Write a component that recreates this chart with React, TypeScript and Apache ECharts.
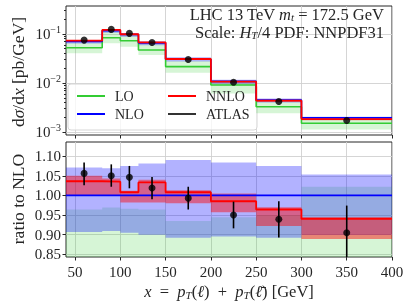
import React, { useEffect, useRef } from 'react';
import * as echarts from 'echarts';

// ---------- data ----------
const edges = [40, 80, 100, 120, 150, 200, 250, 300, 400];
const centers = [60, 90, 110, 135, 175, 225, 275, 350];

// top panel: dσ/dx [pb/GeV]
const loXs = [0.0525, 0.084, 0.073, 0.047, 0.0216, 0.0091, 0.00328, 0.00151];
const loXsLo = [0.0404, 0.0646, 0.0551, 0.0373, 0.0162, 0.0061, 0.00241, 0.00113];
const loXsHi = [0.068, 0.113, 0.094, 0.063, 0.0286, 0.0102, 0.0043, 0.002];
const nloXs = [0.0706, 0.117, 0.0975, 0.0655, 0.0306, 0.0108, 0.00451, 0.00196];
const nloXsLo = [0.064, 0.106, 0.088, 0.059, 0.0273, 0.0097, 0.004, 0.00176];
const nloXsHi = [0.0756, 0.125, 0.105, 0.0708, 0.0334, 0.0117, 0.00485, 0.00206];
const nnloXs = [0.0729, 0.121, 0.0986, 0.0677, 0.0309, 0.01065, 0.00436, 0.00184];
const nnloXsLo = [0.0706, 0.117, 0.0958, 0.0643, 0.03, 0.01034, 0.00416, 0.00174];
const nnloXsHi = [0.0741, 0.122, 0.0988, 0.068, 0.031, 0.01085, 0.00442, 0.00188];
const atlasXs = [0.075, 0.124, 0.103, 0.0672, 0.0302, 0.0104, 0.0042, 0.00172];

// bottom panel: ratio to NLO
const nloRatio = [1, 1, 1, 1, 1, 1, 1, 1];
const nloRatioLo = [0.907, 0.909, 0.905, 0.9, 0.892, 0.895, 0.892, 0.899];
const nloRatioHi = [1.071, 1.069, 1.075, 1.081, 1.09, 1.084, 1.075, 1.053];
const loRatioLo = [0.572, 0.552, 0.565, 0.569, 0.529, 0.565, 0.534, 0.577];
const loRatioHi = [0.964, 0.969, 0.966, 0.964, 0.935, 0.944, 0.95, 1.022];
const nnloRatio = [1.036, 1.035, 1.008, 1.033, 1.008, 0.985, 0.964, 0.94];
const nnloRatioLo = [1.001, 1.001, 0.982, 0.982, 0.98, 0.957, 0.922, 0.889];
const nnloRatioHi = [1.05, 1.043, 1.012, 1.04, 1.013, 1.005, 0.97, 0.945];
const atlasRatio = [1.056, 1.05, 1.046, 1.019, 0.993, 0.95, 0.939, 0.905];
const atlasRatioLo = [1.026, 1.022, 1.018, 0.99, 0.964, 0.916, 0.893, 0.835];
const atlasRatioHi = [1.084, 1.079, 1.075, 1.047, 1.022, 0.984, 0.985, 0.974];

// ticks
const xTicks = [50, 100, 150, 200, 250, 300, 350, 400];
const logTicks = [0.001, 0.01, 0.1];
const logMinorTicks = [0.002, 0.003, 0.004, 0.005, 0.006, 0.007, 0.008, 0.009, 0.02, 0.03, 0.04, 0.05, 0.06, 0.07, 0.08, 0.09, 0.2, 0.3];
const ratioTicks = [0.85, 0.9, 0.95, 1.0, 1.05, 1.1];

// ---------- helpers ----------
const FONT = '"Liberation Serif", "DejaVu Serif", serif';
const TXT = '#262626';
const GREEN = '#33cc33';
const BLUE = '#0000ff';
const RED = '#ff0000';

function stepData(vals: number[]) {
  const out: number[][] = [];
  vals.forEach((v, i) => {
    out.push([edges[i], v], [edges[i + 1], v]);
  });
  return out;
}
function bandData(lo: number[], hi: number[]) {
  return lo.map((l, i) => [edges[i], edges[i + 1], l, hi[i]]);
}
function errData(lo: number[], hi: number[]) {
  return centers.map((c, i) => [c, lo[i], hi[i]]);
}
function pts(vals: number[]) {
  return centers.map((c, i) => [c, vals[i]]);
}

function bandSeries(name: string, lo: number[], hi: number[], fill: string, axis: number, yAxisIndex: number) {
  return {
    name,
    type: 'custom',
    xAxisIndex: axis,
    yAxisIndex,
    clip: true,
    silent: true,
    data: bandData(lo, hi),
    encode: { x: [0, 1], y: [2, 3] },
    renderItem: (params: any, api: any) => {
      if (params.dataIndexInside !== 0) return null;
      const n = params.dataInsideLength;
      const upper: number[][] = [];
      for (let i = 0; i < n; i++) {
        const x0 = api.value(0, i), x1 = api.value(1, i);
        const h = api.value(3, i);
        upper.push(api.coord([x0, h]), api.coord([x1, h]));
      }
      const lowerRev: number[][] = [];
      for (let i = n - 1; i >= 0; i--) {
        const x0 = api.value(0, i), x1 = api.value(1, i);
        const l = api.value(2, i);
        lowerRev.push(api.coord([x1, l]), api.coord([x0, l]));
      }
      return { type: 'polygon', shape: { points: upper.concat(lowerRev) }, style: { fill } };
    },
  };
}

function lineSeries(name: string, vals: number[], color: string, axis: number, width: number) {
  return {
    name,
    type: 'line',
    xAxisIndex: axis,
    yAxisIndex: axis === 0 ? 0 : 2,
    data: stepData(vals),
    symbol: 'none',
    showSymbol: false,
    color,
    lineStyle: { color, width },
    silent: true,
    clip: true,
  };
}

const tickStyle = { color: TXT, width: 1 };
const gridLine = { show: true, lineStyle: { color: '#d0d0d0', width: 0.9 } };

const richMath = (size: number, lh: number, sub: number) => ({
  r: { fontSize: size, lineHeight: lh, fontFamily: FONT, fill: TXT },
  i: { fontSize: size, lineHeight: lh, fontFamily: FONT, fontStyle: 'italic', fill: TXT },
  s: { fontSize: Math.round(size * 0.68), lineHeight: 6, padding: [sub, 0, 0, 0], fontFamily: FONT, fontStyle: 'italic', fill: TXT },
});

const option: any = {
  animation: false,
  grid: [
    { left: 66, right: 17, top: 6, height: 129, show: true, borderColor: TXT, borderWidth: 1, backgroundColor: 'transparent' },
    { left: 66, right: 17, top: 142, height: 115, show: true, borderColor: TXT, borderWidth: 1, backgroundColor: 'transparent' },
  ],
  xAxis: [
    {
      gridIndex: 0, type: 'value', min: 40, max: 400,
      axisLine: { show: false },
      axisTick: { show: true, customValues: xTicks, length: 3.5, lineStyle: tickStyle },
      axisLabel: { show: false, customValues: xTicks },
      splitLine: gridLine,
    },
    {
      gridIndex: 1, type: 'value', min: 40, max: 400,
      axisLine: { show: false },
      axisTick: { show: true, customValues: xTicks, length: 3.5, lineStyle: tickStyle },
      axisLabel: { show: true, customValues: xTicks, fontSize: 15, fontFamily: FONT, color: TXT, margin: 7 },
      splitLine: gridLine,
    },
  ],
  yAxis: [
    {
      gridIndex: 0, type: 'log', logBase: 10, min: 8.7e-4, max: 0.372, position: 'left',
      axisLine: { show: false },
      axisTick: { show: true, customValues: logTicks, length: 3.5, lineStyle: tickStyle },
      axisLabel: {
        show: true, customValues: logTicks, margin: 5,
        formatter: (v: number) => `{b|10}{e|−${Math.abs(Math.round(Math.log10(v)))}}`,
        rich: {
          b: { fontSize: 15, fontFamily: FONT, color: TXT },
          e: { fontSize: 10, fontFamily: FONT, color: TXT, padding: [0, 0, 9, 0] },
        },
      },
      splitLine: gridLine,
    },
    {
      gridIndex: 0, type: 'log', logBase: 10, min: 8.7e-4, max: 0.372, position: 'left', offset: 0,
      axisLine: { show: false },
      axisTick: { show: true, customValues: logMinorTicks, length: 2, lineStyle: tickStyle },
      axisLabel: { show: false, customValues: logMinorTicks },
      splitLine: { show: false },
    },
    {
      gridIndex: 1, type: 'value', min: 0.843, max: 1.136,
      axisLine: { show: false },
      axisTick: { show: true, customValues: ratioTicks, length: 3.5, lineStyle: tickStyle },
      axisLabel: {
        show: true, customValues: ratioTicks, margin: 5,
        formatter: (v: number) => v.toFixed(2),
        fontSize: 15, fontFamily: FONT, color: TXT,
      },
      splitLine: gridLine,
    },
  ],
  legend: [
    {
      left: 72, top: 84, orient: 'vertical', icon: 'rect', itemWidth: 28, itemHeight: 2, itemGap: 4,
      selectedMode: false, data: ['LO', 'NLO'],
      textStyle: { fontSize: 14, fontFamily: FONT, color: TXT, padding: [0, 0, 0, 5] },
    },
    {
      left: 163, top: 84, orient: 'vertical', icon: 'rect', itemWidth: 28, itemHeight: 2, itemGap: 4,
      selectedMode: false, data: ['NNLO', 'ATLAS'],
      textStyle: { fontSize: 14, fontFamily: FONT, color: TXT, padding: [0, 0, 0, 5] },
    },
  ],
  graphic: [
    {
      type: 'rect', z: 1, silent: true,
      shape: { x: 68, y: 84, width: 189, height: 46, r: 3 },
      style: { fill: 'rgba(255,255,255,0.8)', stroke: '#d6d6d6', lineWidth: 1 },
    },
    {
      type: 'text', z: 10, x: 384, y: 5,
      style: {
        text: '{r|LHC 13 TeV }{i|m}{s|t}{r| = 172.5 GeV}\n{r|Scale: }{i|H}{s|T}{r|/4 PDF: NNPDF31}',
        align: 'right', verticalAlign: 'top',
        rich: richMath(16.5, 18, 6),
      },
    },
    {
      type: 'text', z: 10, x: 18, y: 72, rotation: Math.PI / 2,
      style: {
        text: '{r|d}{i|σ}{r|/d}{i|x}{r| [pb/GeV]}',
        align: 'center', verticalAlign: 'middle',
        rich: richMath(17.5, 18, 8),
      },
    },
    {
      type: 'text', z: 10, x: 18, y: 199, rotation: Math.PI / 2,
      style: {
        text: 'ratio to NLO',
        align: 'center', verticalAlign: 'middle',
        fontSize: 17.5, fontFamily: FONT, fill: TXT,
      },
    },
    {
      type: 'text', z: 10, x: 229, y: 291,
      style: {
        text: '{i|x}{r|  =  }{i|p}{s|T}{r|(}{i|ℓ}{r|)  +  }{i|p}{s|T}{r|(}{i|ℓ̄}{r|) [GeV]}',
        align: 'center', verticalAlign: 'middle',
        rich: richMath(16.5, 17, 8),
      },
    },
  ],
  series: [
    // top panel
    bandSeries('LO band', loXsLo, loXsHi, 'rgba(51,204,51,0.2)', 0, 0),
    bandSeries('NLO band', nloXsLo, nloXsHi, 'rgba(0,0,255,0.3)', 0, 0),
    bandSeries('NNLO band', nnloXsLo, nnloXsHi, 'rgba(255,0,0,0.45)', 0, 0),
    lineSeries('LO', loXs, GREEN, 0, 1.6),
    lineSeries('NLO', nloXs, BLUE, 0, 1.6),
    lineSeries('NNLO', nnloXs, RED, 0, 1.8),
    {
      name: 'ATLAS', type: 'scatter', xAxisIndex: 0, yAxisIndex: 0, data: pts(atlasXs),
      symbol: 'circle', symbolSize: 7, color: '#000', itemStyle: { color: '#000' }, z: 5, silent: true,
    },
    // bottom panel
    bandSeries('LO ratio band', loRatioLo, loRatioHi, 'rgba(51,204,51,0.2)', 1, 2),
    bandSeries('NLO ratio band', nloRatioLo, nloRatioHi, 'rgba(0,0,255,0.3)', 1, 2),
    bandSeries('NNLO ratio band', nnloRatioLo, nnloRatioHi, 'rgba(255,0,0,0.45)', 1, 2),
    lineSeries('NLO ratio', nloRatio, BLUE, 1, 1.6),
    lineSeries('NNLO ratio', nnloRatio, RED, 1, 1.8),
    {
      name: 'ATLAS ratio err', type: 'custom', xAxisIndex: 1, yAxisIndex: 2, clip: true, silent: true, z: 4,
      data: errData(atlasRatioLo, atlasRatioHi),
      encode: { x: 0, y: [1, 2] },
      renderItem: (params: any, api: any) => {
        const a = api.coord([api.value(0), api.value(1)]);
        const b = api.coord([api.value(0), api.value(2)]);
        return { type: 'line', shape: { x1: a[0], y1: a[1], x2: b[0], y2: b[1] }, style: { stroke: '#000', lineWidth: 1.6 } };
      },
    },
    {
      name: 'ATLAS ratio', type: 'scatter', xAxisIndex: 1, yAxisIndex: 2, data: pts(atlasRatio),
      symbol: 'circle', symbolSize: 7, itemStyle: { color: '#000' }, z: 5, silent: true,
    },
  ],
};

export default function App() {
  const ref = useRef<HTMLDivElement>(null);
  useEffect(() => {
    const chart = echarts.init(ref.current as HTMLDivElement, null, { renderer: 'svg' });
    chart.setOption(option);
    return () => chart.dispose();
  }, []);
  return <div ref={ref} style={{ position: 'fixed', left: 0, top: 0, width: 409, height: 307 }} />;
}
